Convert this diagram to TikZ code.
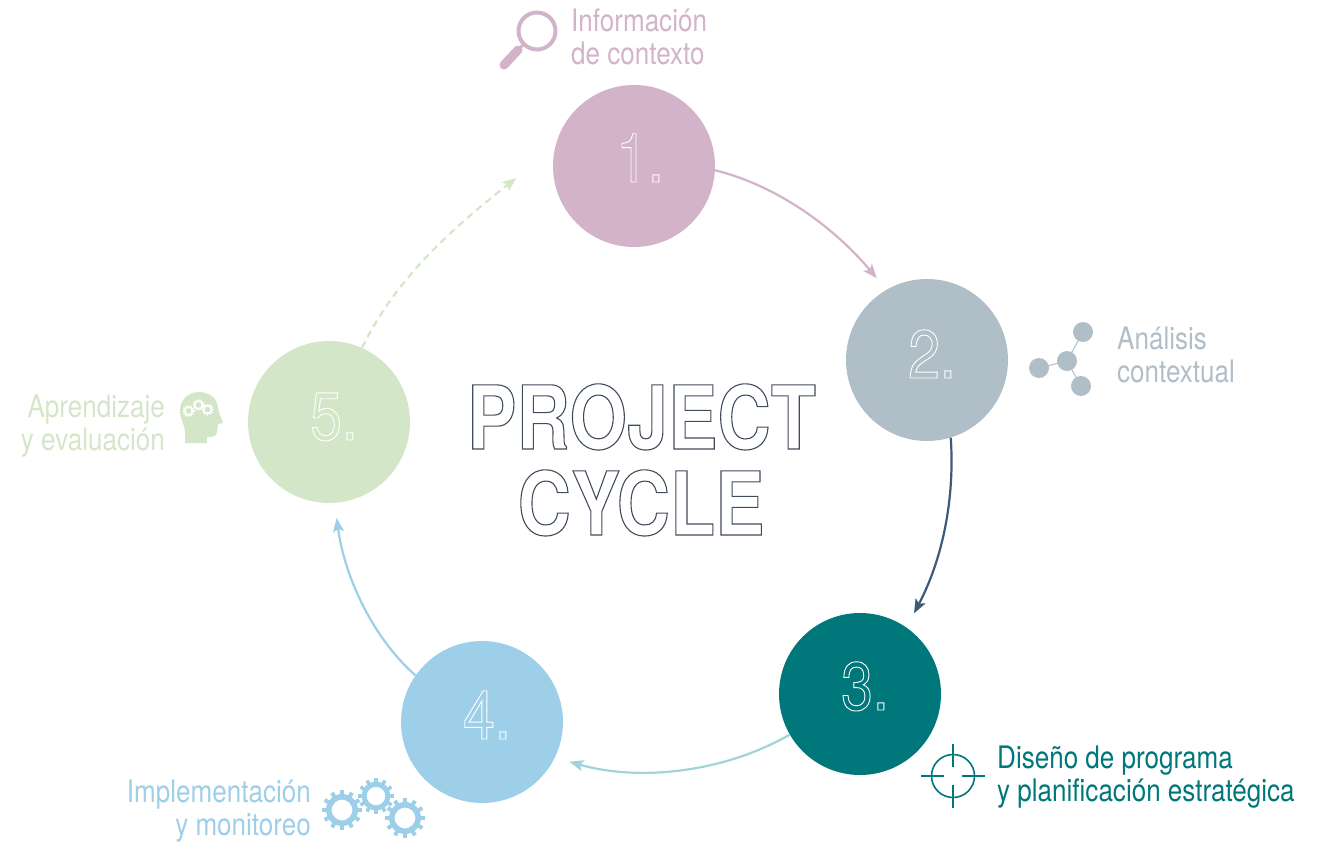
\documentclass[tikz,border=0pt]{standalone}
\usepackage{fontspec}
\usetikzlibrary{arrows.meta}
\setmainfont{TeX Gyre Heros}
\newfontfamily\cond[FakeStretch=0.84]{TeX Gyre Heros}
\newfontfamily\condb[FakeStretch=0.84]{TeX Gyre Heros Bold}
\definecolor{cpink}{HTML}{D3B3CA}
\definecolor{cgrey}{HTML}{B0BEC7}
\definecolor{cteal}{HTML}{00777A}
\definecolor{cblue}{HTML}{9ECFE8}
\definecolor{cgreen}{HTML}{D4E6C8}
\definecolor{cnavy}{HTML}{3F5A75}
\definecolor{caqua}{HTML}{A0D4D8}
\newcommand{\outlw}[1]{\special{pdf:code 1 Tr 0.9 w 1 1 1 RG}#1\special{pdf:code 0 Tr}}
\newcommand{\outld}[1]{\special{pdf:code 1 Tr 1.1 w 0.25 0.3 0.36 RG}#1\special{pdf:code 0 Tr}}
\newcommand{\cogwheel}[4]{%
  \draw[#4,line width=#3*0.28] (#1,#2) circle ({#3*0.66});
  \foreach \a in {0,30,...,330}{\draw[#4,line width=#3*0.2] ($(#1,#2)+(\a:{#3*0.66})$) -- ($(#1,#2)+(\a:#3)$);}
}
\usetikzlibrary{calc}
\tikzset{
  stage/.style={circle,minimum size=162pt,inner sep=0pt,draw=none},
  numeral/.style={anchor=base,inner sep=0pt,font=\cond\fontsize{68}{68}\selectfont},
  caption/.style={inner sep=0pt,font=\cond\fontsize{31}{33}\selectfont},
  flow/.style={line width=2.2pt,-{Stealth[length=14pt,width=11pt,inset=3pt]}},
  titletext/.style={anchor=base,inner sep=0pt,font=\condb\fontsize{88}{88}\selectfont},
  link/.style={line width=1pt,cgrey}
}
\begin{document}
\begin{tikzpicture}[x=1pt,y=-1pt]
\useasboundingbox (0,0) rectangle (1341,846);
% stages
\node[stage,fill=cpink] (c1) at (634,166) {};
\node[stage,fill=cgrey] (c2) at (927,360) {};
\node[stage,fill=cteal] (c3) at (860,694) {};
\node[stage,fill=cblue] (c4) at (482,722) {};
\node[stage,fill=cgreen] (c5) at (329,422) {};
\node[numeral] (n1) at (640,182) {\outlw{1.}};
\node[numeral] (n2) at (932,378) {\outlw{2.}};
\node[numeral] (n3) at (865,710) {\outlw{3.}};
\node[numeral] (n4) at (487,739) {\outlw{4.}};
\node[numeral] (n5) at (334,440) {\outlw{5.}};
% flows
\draw[flow,cpink,shorten >=15pt] (c1.-3) .. controls (775,185) and (832,225) .. (c2.120.6);
\draw[flow,cnavy,shorten >=16pt] (c2.-73) .. controls (955,500) and (942,560) .. (c3.55.5);
\draw[flow,caqua,shorten >=15pt] (c3.210) .. controls (725,772) and (640,782) .. (c4.-26.6);
\draw[flow,cblue,shorten >=15pt] (c4.145) .. controls (375,640) and (345,580) .. (c5.-86);
\draw[flow,cgreen,dashed,dash pattern=on 7pt off 5pt,shorten >=49pt] (c5.66.8) .. controls (395,280) and (450,230) .. (c1.167.6);
% title
\node[titletext] (t1) at (641.5,449) {\outld{PROJECT}};
\node[titletext] (t2) at (641,535) {\outld{CYCLE}};
% captions
\node[caption,anchor=north west,align=left,text=cpink] (l1) at (571,9) {Información\\de contexto};
\node[caption,anchor=north west,align=left,text=cgrey] (l2) at (1117,327) {Análisis\\contextual};
\node[caption,anchor=north west,align=left,text=cteal] (l3) at (997,746) {Diseño de programa\\y planificación estratégica};
\node[caption,anchor=north east,align=right,text=cblue] (l4) at (311,780) {Implementación\\y monitoreo};
\node[caption,anchor=north east,align=right,text=cgreen] (l5) at (165,395) {Aprendizaje\\y evaluación};
% magnifier
\draw[cpink,line width=4pt] (537,31) circle (18.5);
\draw[cpink,line width=3pt] (524,44) -- (518,50);
\draw[cpink,line width=9pt,line cap=round] (518,50) -- (504,65);
% molecule
\draw[link] (1083,332) -- (1067,361) -- (1039,368) (1067,361) -- (1081,386);
\fill[cgrey] (1083,332) circle (10) (1067,361) circle (10) (1039,368) circle (10) (1081,386) circle (10);
% crosshair
\draw[cteal,line width=1.6pt] (953,776) circle (21.5);
\draw[cteal,line width=1.6pt] (953,744) -- (953,767) (953,785) -- (953,808) (921,776) -- (944,776) (962,776) -- (985,776);
% gears
\cogwheel{342}{810}{20}{cblue}
\cogwheel{376}{796}{18}{cblue}
\cogwheel{405}{818}{20}{cblue}
% head
\fill[cgreen] (185,443) -- (207,443) -- (207,437) .. controls (212,437) and (217,437) .. (217,432) -- (218,424) -- (223,423) .. controls (220,415) and (218,410) .. (217,403) .. controls (214,395) and (206,392) .. (199,392) .. controls (188,392) and (180,400) .. (180,410) .. controls (180,420) and (185,425) .. (185,432) -- cycle;
\cogwheel{188.5}{411}{6}{white}
\cogwheel{198.5}{405}{6}{white}
\cogwheel{207.5}{409.5}{6}{white}
\end{tikzpicture}
\end{document}
